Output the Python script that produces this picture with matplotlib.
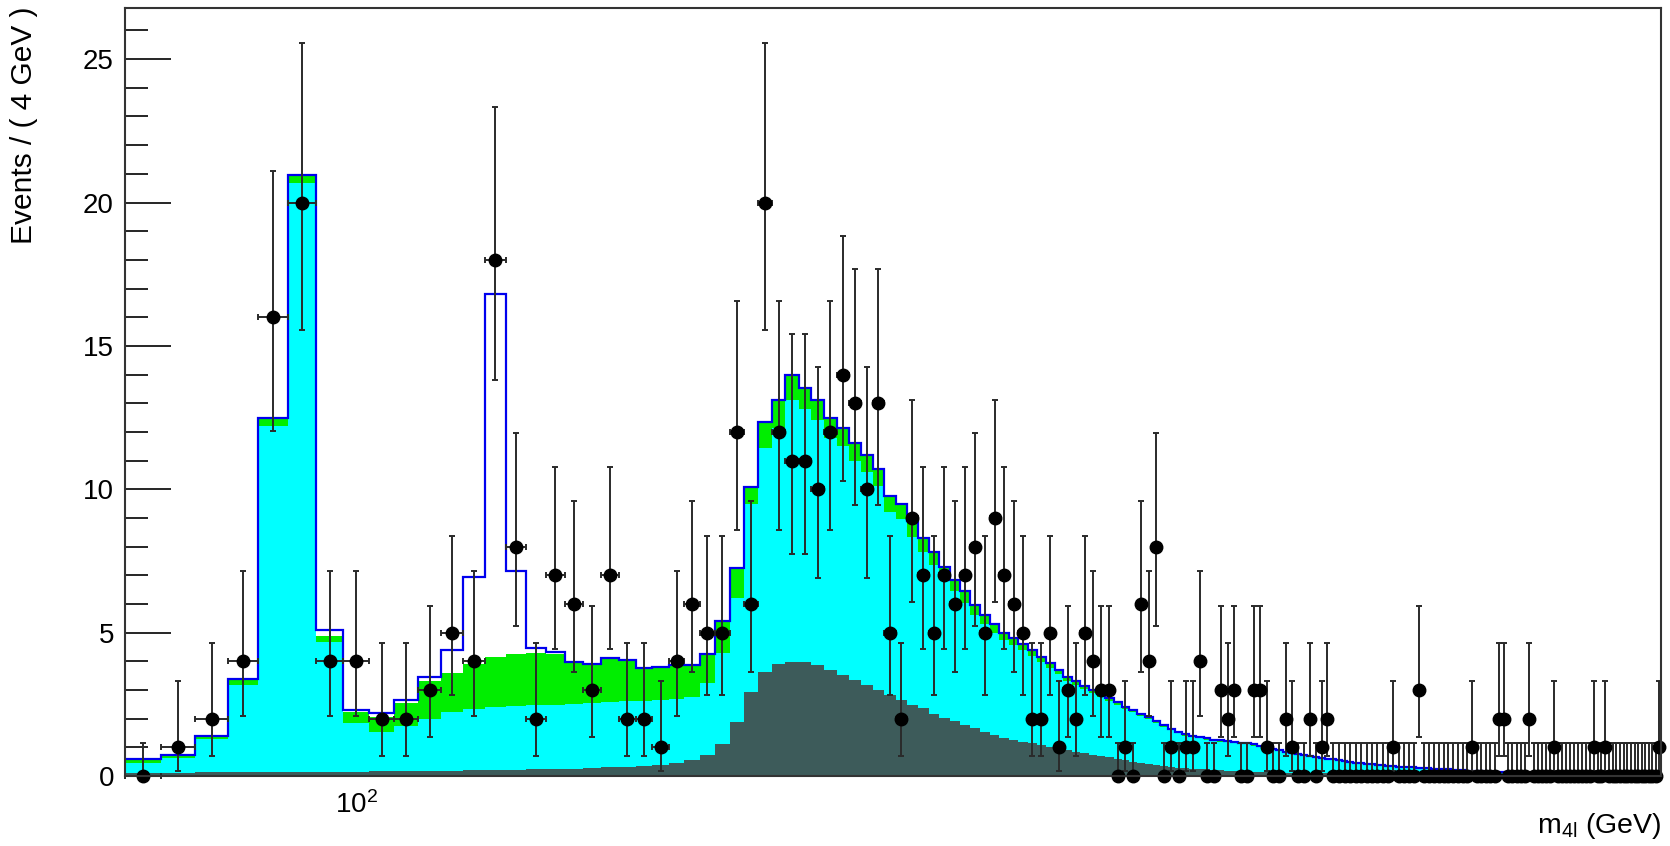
import math
import numpy as np
import matplotlib
matplotlib.use("Agg")
import matplotlib.pyplot as plt
from matplotlib.ticker import FixedLocator, FixedFormatter, NullFormatter, MultipleLocator

plt.rcParams['font.family'] = ['Liberation Sans', 'DejaVu Sans']
plt.rcParams['mathtext.fontset'] = 'custom'
plt.rcParams['mathtext.rm'] = 'Liberation Sans'
plt.rcParams['mathtext.default'] = 'regular'

# binning: 4 GeV bins from 70 to 750 GeV
m_low, m_high, bin_width = 70, 750, 4

# observed events per bin (bin centres 72, 76, ..., 748)
counts = [
    0, 1, 2, 4, 16, 20, 4, 4, 2, 2,
    3, 5, 4, 18, 8, 2, 7, 6, 3, 7,
    2, 2, 1, 4, 6, 5, 5, 12, 6, 20,
    12, 11, 11, 10, 12, 14, 13, 10, 13, 5,
    2, 9, 7, 5, 7, 6, 7, 8, 5, 9,
    7, 6, 5, 2, 2, 5, 1, 3, 2, 5,
    4, 3, 3, 0, 1, 0, 6, 4, 8, 0,
    1, 0, 1, 1, 4, 0, 0, 3, 2, 3,
    0, 0, 3, 3, 1, 0, 0, 2, 1, 0,
    0, 2, 0, 1, 2, 0, 0, 0, 0, 0,
    0, 0, 0, 0, 0, 0, 1, 0, 0, 0,
    0, 3, 0, 0, 0, 0, 0, 0, 0, 0,
    0, 0, 1, 0, 0, 0, 0, 0, 2, 2,
    0, 0, 0, 0, 0, 2, 0, 0, 0, 0,
    0, 1, 0, 0, 0, 0, 0, 0, 0, 0,
    0, 1, 0, 0, 1, 0, 0, 0, 0, 0,
    0, 0, 0, 0, 0, 0, 0, 0, 0, 1,
]

# stacked background levels (top of each layer)
dark_top = [
    0.12, 0.12, 0.13, 0.13, 0.14, 0.14, 0.15, 0.15, 0.16, 0.17,
    0.18, 0.19, 0.20, 0.21, 0.22, 0.23, 0.25, 0.26, 0.28, 0.30,
    0.32, 0.35, 0.38, 0.45, 0.55, 0.75, 1.10, 1.90, 2.93, 3.63,
    3.92, 3.98, 3.98, 3.86, 3.69, 3.52, 3.34, 3.17, 2.99, 2.82,
    2.65, 2.49, 2.36, 2.18, 2.04, 1.91, 1.77, 1.66, 1.54, 1.43,
    1.31, 1.25, 1.20, 1.14, 1.08, 1.02, 0.96, 0.90, 0.85, 0.80,
    0.75, 0.70, 0.65, 0.60, 0.55, 0.50, 0.46, 0.42, 0.38, 0.34,
    0.31, 0.29, 0.27, 0.25, 0.24, 0.23, 0.21, 0.20, 0.19, 0.18,
    0.17, 0.16, 0.15, 0.14, 0.14, 0.13, 0.12, 0.12, 0.11, 0.11,
    0.10, 0.10, 0.09, 0.09, 0.09, 0.08, 0.08, 0.08, 0.07, 0.07,
    0.07, 0.06, 0.06, 0.06, 0.06, 0.05, 0.05, 0.05, 0.05, 0.05,
    0.04, 0.04, 0.04, 0.04, 0.04, 0.04, 0.04, 0.04, 0.04, 0.04,
    0.04, 0.04, 0.04, 0.04, 0.04, 0.03, 0.03, 0.03, 0.03, 0.03,
    0.03, 0.03, 0.03, 0.03, 0.03, 0.03, 0.03, 0.03, 0.03, 0.03,
    0.03, 0.03, 0.03, 0.03, 0.03, 0.02, 0.02, 0.02, 0.02, 0.02,
    0.02, 0.02, 0.02, 0.02, 0.02, 0.02, 0.02, 0.02, 0.02, 0.02,
    0.02, 0.02, 0.02, 0.02, 0.02, 0.02, 0.02, 0.02, 0.02, 0.02,
]

cyan_top = [
    0.46, 0.64, 1.28, 3.17, 12.2, 20.68, 4.68, 1.86, 1.54, 1.75,
    2.00, 2.25, 2.33, 2.40, 2.43, 2.46, 2.49, 2.52, 2.55, 2.58,
    2.60, 2.62, 2.65, 2.70, 2.76, 3.25, 4.30, 6.20, 9.50, 11.45,
    12.15, 13.10, 12.80, 12.40, 11.80, 11.50, 11.00, 10.60, 10.10, 9.20,
    8.95, 8.35, 7.80, 7.35, 6.90, 6.45, 6.05, 5.60, 5.30, 5.00,
    4.75, 4.57, 4.39, 4.20, 3.97, 3.78, 3.55, 3.31, 3.17, 3.03,
    2.89, 2.77, 2.62, 2.49, 2.34, 2.22, 2.11, 2.00, 1.86, 1.71,
    1.60, 1.49, 1.41, 1.35, 1.31, 1.27, 1.23, 1.20, 1.17, 1.15,
    1.12, 1.10, 1.06, 1.02, 0.98, 0.93, 0.87, 0.82, 0.78, 0.74,
    0.70, 0.67, 0.64, 0.62, 0.59, 0.57, 0.54, 0.51, 0.48, 0.46,
    0.44, 0.42, 0.40, 0.38, 0.36, 0.34, 0.33, 0.32, 0.31, 0.30,
    0.29, 0.28, 0.27, 0.26, 0.25, 0.24, 0.23, 0.22, 0.21, 0.20,
    0.19, 0.18, 0.17, 0.16, 0.155, 0.15, 0.14, 0.135, 0.13, 0.125,
    0.12, 0.115, 0.11, 0.105, 0.10, 0.095, 0.09, 0.085, 0.08, 0.077,
    0.074, 0.071, 0.069, 0.066, 0.064, 0.061, 0.059, 0.057, 0.055, 0.053,
    0.051, 0.049, 0.047, 0.045, 0.043, 0.041, 0.039, 0.037, 0.036, 0.034,
    0.033, 0.032, 0.031, 0.030, 0.029, 0.028, 0.027, 0.026, 0.025, 0.024,
]

green_top = [
    0.58, 0.73, 1.39, 3.39, 12.5, 20.97, 4.90, 2.24, 2.05, 2.56,
    3.30, 3.60, 3.92, 4.15, 4.27, 4.29, 4.25, 3.98, 3.92, 4.10,
    4.04, 3.78, 3.80, 3.88, 3.88, 4.27, 5.39, 7.25, 10.07, 12.33,
    13.10, 13.99, 13.53, 13.10, 12.50, 12.15, 11.60, 11.20, 10.70, 9.75,
    9.50, 8.90, 8.30, 7.80, 7.30, 6.85, 6.45, 5.95, 5.60, 5.30,
    5.00, 4.80, 4.60, 4.40, 4.15, 3.95, 3.70, 3.45, 3.30, 3.15,
    3.00, 2.88, 2.72, 2.58, 2.42, 2.30, 2.18, 2.07, 1.92, 1.77,
    1.65, 1.54, 1.46, 1.39, 1.35, 1.31, 1.27, 1.24, 1.21, 1.19,
    1.16, 1.14, 1.10, 1.06, 1.02, 0.96, 0.90, 0.85, 0.81, 0.77,
    0.73, 0.70, 0.67, 0.64, 0.61, 0.59, 0.56, 0.53, 0.50, 0.47,
    0.45, 0.43, 0.41, 0.39, 0.37, 0.35, 0.34, 0.33, 0.32, 0.31,
    0.30, 0.29, 0.28, 0.27, 0.26, 0.25, 0.24, 0.23, 0.22, 0.21,
    0.20, 0.19, 0.18, 0.17, 0.16, 0.155, 0.15, 0.14, 0.135, 0.13,
    0.125, 0.12, 0.115, 0.11, 0.105, 0.10, 0.095, 0.09, 0.085, 0.08,
    0.078, 0.075, 0.072, 0.070, 0.067, 0.064, 0.062, 0.060, 0.057, 0.055,
    0.053, 0.050, 0.048, 0.046, 0.044, 0.042, 0.040, 0.038, 0.037, 0.035,
    0.034, 0.033, 0.032, 0.031, 0.030, 0.029, 0.028, 0.027, 0.026, 0.025,
]

# signal on top of the backgrounds (bin centre -> events)
sig_mass = [96, 100, 104, 108, 112, 116, 120, 124, 128, 132, 136]
sig_events = [0.18, 0.08, 0.15, 0.08, 0.16, 0.81, 3.02, 12.65, 2.88, 0.18, 0.08]


def poisson_cdf(k, mu):
    term = math.exp(-mu)
    total = term
    for i in range(1, k + 1):
        term *= mu / i
        total += term
    return total


def bisect(f, target, lo, hi, increasing):
    for _ in range(80):
        mid = 0.5 * (lo + hi)
        if (f(mid) < target) == increasing:
            lo = mid
        else:
            hi = mid
    return 0.5 * (lo + hi)


def poisson_interval(n):
    # 68.27% interval as drawn by RooFit
    alpha = 0.5 * (1 - 0.6827)
    if n == 0:
        return 0.0, -math.log(1 - 0.6827)
    lo = bisect(lambda mu: 1 - poisson_cdf(n - 1, mu), alpha, 0.0, 100.0, True)
    hi = bisect(lambda mu: poisson_cdf(n, mu), alpha, 0.0, 100.0, False)
    return lo, hi


edges = np.arange(m_low, m_high + bin_width, bin_width)
centers = 0.5 * (edges[:-1] + edges[1:])
counts = np.array(counts)

signal = np.zeros(len(centers))
for m, s in zip(sig_mass, sig_events):
    signal[np.argmin(abs(centers - m))] = s
total = np.array(green_top) + signal

intervals = [poisson_interval(n) for n in counts]
err_lo = counts - np.array([iv[0] for iv in intervals])
err_hi = np.array([iv[1] for iv in intervals]) - counts

# figure
fig = plt.figure(figsize=(16.7, 8.46), dpi=100)
ax = fig.add_axes([0.0749, 0.0827, 0.9198, 0.9084])

ax.stairs(green_top, edges, fill=True, color='#00ee00', lw=0, zorder=1)
ax.stairs(cyan_top, edges, fill=True, color='#00ffff', lw=0, zorder=2)
ax.stairs(dark_top, edges, fill=True, color='#3d5b5a', lw=0, zorder=3)
ax.stairs(total, edges, baseline=None, color='#0000ee', lw=1.6, zorder=4)

ax.errorbar(centers, counts, yerr=[err_lo, err_hi],
            xerr=[centers - edges[:-1], edges[1:] - centers],
            fmt='o', ms=9, color='black', ecolor='#2a2a2a',
            elinewidth=1.4, capsize=2.2, capthick=1.4, zorder=5, clip_on=False)

ax.set_xscale('log')
ax.set_xlim(m_low, m_high)
ax.set_ylim(0, 26.8)

ax.xaxis.set_major_locator(FixedLocator([100]))
ax.xaxis.set_major_formatter(FixedFormatter([r'$10^{2}$']))
ax.xaxis.set_minor_locator(FixedLocator([80, 90, 200, 300, 400, 500, 600, 700]))
ax.xaxis.set_minor_formatter(NullFormatter())
ax.yaxis.set_major_locator(MultipleLocator(5))
ax.yaxis.set_minor_locator(MultipleLocator(1))

ax.tick_params(axis='y', which='major', direction='in', length=33, width=1.2,
               labelsize=20, pad=8, right=False)
ax.tick_params(axis='y', which='minor', direction='in', length=16.5, width=1.2, right=False)
ax.tick_params(axis='x', which='major', direction='in', length=16.5, width=1.2,
               labelsize=20, pad=11, top=False)
ax.tick_params(axis='x', which='minor', direction='in', length=8, width=1.2, top=False)

for sp in ax.spines.values():
    sp.set_linewidth(1.5)
    sp.set_color('#333333')
    sp.set_zorder(6)

fig.text(1661 / 1670, 1 - 826 / 846, r'm$_{4l}$ (GeV)', ha='right', va='center', fontsize=20.5)
fig.text(24 / 1670, 1 - 6 / 846, 'Events / ( 4 GeV )', rotation=90,
         ha='center', va='top', fontsize=21.5)

fig.savefig('out.png', dpi=100)
